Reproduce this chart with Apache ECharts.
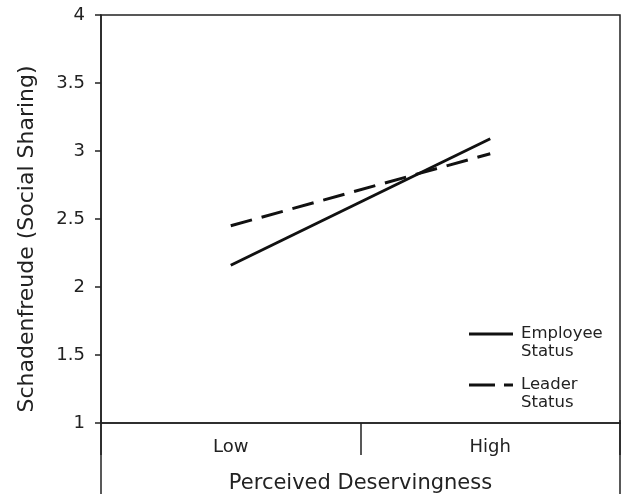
<!DOCTYPE html>
<html>
<head>
<meta charset="utf-8">
<script src="https://cdn.jsdelivr.net/npm/echarts@6/dist/echarts.min.js"></script>
<style>html,body{margin:0;padding:0;background:#fff;}#c{width:622px;height:494px;}</style>
</head>
<body>
<div id="c"></div>
<script>
var categories = ['Low', 'High'];
var employeeStatus = [2.16, 3.09];
var leaderStatus = [2.45, 2.98];
var yTicks = [1, 1.5, 2, 2.5, 3, 3.5, 4];
var seriesNames = ['Employee\nStatus', 'Leader\nStatus'];

var FONT = 'DejaVu Sans';
var chart = echarts.init(document.getElementById('c'), null, {renderer: 'canvas'});
chart.setOption({
  animation: false,
  backgroundColor: '#fff',
  textStyle: {fontFamily: FONT, color: '#222'},
  grid: {left: 101, top: 15, right: 2, bottom: 71, outerBoundsMode: 'none', containLabel: false,
         show: true, borderColor: '#222', borderWidth: 1.5, backgroundColor: 'transparent'},
  xAxis: {
    type: 'category', data: categories, boundaryGap: true,
    name: 'Perceived Deservingness', nameLocation: 'middle', nameGap: 50,
    nameTextStyle: {fontFamily: FONT, fontSize: 21, color: '#222'},
    axisLine: {lineStyle: {color: '#222', width: 1.5}},
    axisTick: {show: true, length: 32, lineStyle: {color: '#222', width: 1.5}},
    axisLabel: {fontFamily: FONT, fontSize: 18, color: '#222', margin: 15},
    splitLine: {show: false}
  },
  yAxis: {
    type: 'value', min: 1, max: 4, interval: 0.5,
    name: 'Schadenfreude (Social Sharing)', nameLocation: 'middle', nameGap: 63,
    nameTextStyle: {fontFamily: FONT, fontSize: 22, color: '#222', padding: [0, 40, 0, 0]},
    axisLine: {show: true, lineStyle: {color: '#222', width: 1.5}},
    axisTick: {show: true, length: 6, lineStyle: {color: '#222', width: 1.5}},
    axisLabel: {fontFamily: FONT, fontSize: 18, color: '#222', margin: 16,
      formatter: function (v) { return yTicks.indexOf(v) >= 0 ? String(v) : ''; }},
    splitLine: {show: false}
  },
  legend: {
    orient: 'vertical', left: 464, top: 320, itemGap: 15,
    itemWidth: 44, itemHeight: 36,
    textStyle: {fontFamily: FONT, fontSize: 16.5, color: '#222', lineHeight: 18, padding: [0, 0, 0, 3]},
    data: [
      {name: seriesNames[0], icon: 'path://M0,7.5 L44,7.5 L44,10.5 L0,10.5 Z M0,36 L0.01,36 L0.01,36.01 Z M0,0 L0.01,0 L0.01,0.01 Z', itemStyle: {color: '#111'}},
      {name: seriesNames[1], icon: 'path://M0,7.5 L26,7.5 L26,10.5 L0,10.5 Z M35,7.5 L44,7.5 L44,10.5 L35,10.5 Z M0,36 L0.01,36 L0.01,36.01 Z M0,0 L0.01,0 L0.01,0.01 Z', itemStyle: {color: '#111'}}
    ]
  },
  series: [
    {name: seriesNames[0], type: 'line', data: employeeStatus, symbol: 'none',
     lineStyle: {color: '#111', width: 3, type: 'solid'}, itemStyle: {color: '#111'}},
    {name: seriesNames[1], type: 'line', data: leaderStatus, symbol: 'none',
     lineStyle: {color: '#111', width: 3, type: [22, 10]}, itemStyle: {color: '#111'}}
  ],
  graphic: [
    {type: 'line', shape: {x1: 101, y1: 420, x2: 101, y2: 494}, style: {stroke: '#222', lineWidth: 1.5}},
    {type: 'line', shape: {x1: 620, y1: 420, x2: 620, y2: 494}, style: {stroke: '#222', lineWidth: 1.5}}
  ]
});
</script>
</body>
</html>
